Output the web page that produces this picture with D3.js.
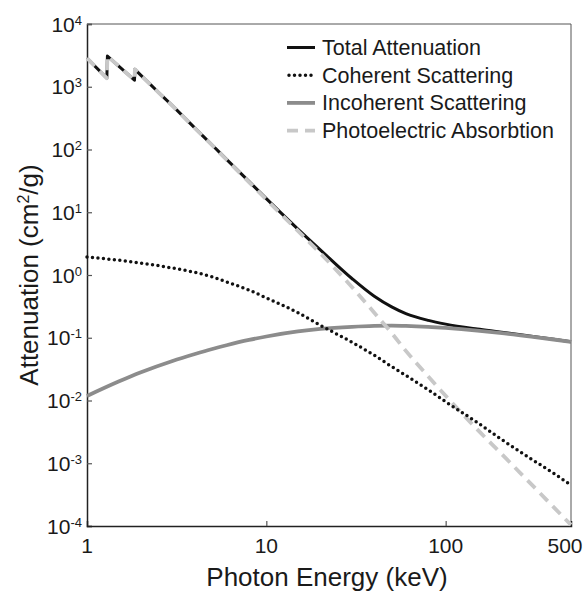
<!DOCTYPE html>
<html>
<head>
<meta charset="utf-8">
<script src="https://cdn.jsdelivr.net/npm/d3@7"></script>
<style>
  body { margin: 0; background: #fff; }
  text { font-family: "Liberation Sans", Arial, sans-serif; fill: #1a1a1a; }
</style>
</head>
<body>
<script>
// photon energies (keV) and mass attenuation (cm2/g)
// absorption curves carry the two edges near 1.3 and 1.84 keV
const energy     = [1, 1.29, 1.3, 1.84, 1.85, 2, 2.5, 3, 4, 5, 6, 8, 10, 15, 20, 30, 40, 50, 60, 80, 100, 150, 200, 300, 400, 500]
const total      = [2852, 1372, 3082, 1272, 1892, 1522, 816, 496, 219, 117, 69.5, 31.0, 16.5, 5.4, 2.52, 0.88, 0.458, 0.31, 0.242, 0.189, 0.165, 0.138, 0.124, 0.106, 0.0947, 0.0865]
const photo      = [2850, 1370, 3080, 1270, 1890, 1520, 815, 495, 218, 116, 68.7, 30.3, 16.0, 5.05, 2.22, 0.645, 0.25, 0.119, 0.0617, 0.0242, 0.0119, 0.00346, 0.00151, 0.000465, 0.0002, 0.000104]

// scattering curves are smooth, own energy grid
const energyScatter = [1, 1.5, 2, 3, 4, 5, 6, 8, 10, 15, 20, 30, 40, 50, 60, 80, 100, 150, 200, 300, 400, 500]
const coherent   = [1.94, 1.72, 1.55, 1.29, 1.10, 0.933, 0.776, 0.575, 0.432, 0.251, 0.158, 0.0851, 0.0525, 0.0347, 0.0251, 0.0148, 0.00955, 0.00447, 0.00251, 0.00117, 0.00069, 0.000447]
const incoherent = [0.0118, 0.0200, 0.0282, 0.0427, 0.0550, 0.0661, 0.0759, 0.0923, 0.1047, 0.1259, 0.1380, 0.1496, 0.1549, 0.1563, 0.1549, 0.1496, 0.1435, 0.1303, 0.1197, 0.1042, 0.0938, 0.0859]

const edges = [1.29, 1.84]   // last energy before each jump

const seriesNames = ["Total Attenuation", "Coherent Scattering", "Incoherent Scattering", "Photoelectric Absorbtion"]
const xTickValues = [1, 10, 100, 500]
const yExponents  = [-4, -3, -2, -1, 0, 1, 2, 3, 4]

const width = 587, height = 592
const margin = {top: 24, right: 16, bottom: 66, left: 87}
const w = width - margin.left - margin.right
const h = height - margin.top - margin.bottom

const svg = d3.select("body").append("svg")
  .attr("width", width)
  .attr("height", height)

const g = svg.append("g")
  .attr("transform", `translate(${margin.left},${margin.top})`)

const x = d3.scaleLog().domain([1, 500]).range([0, w])
const y = d3.scaleLog().domain([1e-4, 1e4]).range([h, 0])

// frame: top and right thin border
g.append("path")
  .attr("d", `M0,0H${w}V${h}`)
  .attr("fill", "none")
  .attr("stroke", "#555")
  .attr("stroke-width", 1)

// axes with ticks pointing inward
const yAxis = g.append("g")
  .call(d3.axisLeft(y).tickValues(yExponents.map(e => Math.pow(10, e))).tickSize(-5).tickFormat(""))
const xAxis = g.append("g")
  .attr("transform", `translate(0,${h})`)
  .call(d3.axisBottom(x).tickValues([10, 100]).tickSize(-5).tickFormat(""))

;[yAxis, xAxis].forEach(a => {
  a.select(".domain").attr("stroke", "#222").attr("stroke-width", 1.5)
  a.selectAll(".tick line").attr("stroke", "#555").attr("stroke-width", 1.2)
})

// y tick labels 10^n
yExponents.forEach(e => {
  const t = g.append("text")
    .attr("x", -5)
    .attr("y", y(Math.pow(10, e)))
    .attr("dy", "0.36em")
    .attr("text-anchor", "end")
    .style("font-size", "21px")
  t.append("tspan").text("10")
  t.append("tspan")
    .attr("dy", "-7")
    .style("font-size", "13px")
    .text(e)
})

// x tick labels (the last one sits a little left so it stays on the page)
g.selectAll(".xlab").data(xTickValues).enter().append("text")
  .attr("class", "xlab")
  .attr("x", d => d == 500 ? x(d) - 6 : x(d))
  .attr("y", h + 27)
  .attr("text-anchor", "middle")
  .style("font-size", "21px")
  .text(d => d)

// axis titles
svg.append("text")
  .attr("x", 327)
  .attr("y", 586)
  .attr("text-anchor", "middle")
  .style("font-size", "26px")
  .text("Photon Energy (keV)")

const yt = svg.append("text")
  .attr("transform", "translate(38,275) rotate(-90)")
  .attr("text-anchor", "middle")
  .style("font-size", "26px")
yt.append("tspan").text("Attenuation (cm")
yt.append("tspan").attr("dy", "-9").style("font-size", "16px").text("2")
yt.append("tspan").attr("dy", "9").text("/g)")

// curves
const smooth = d3.line().x(d => x(d[0])).y(d => y(d[1])).curve(d3.curveMonotoneX)

// smooth pieces between edges, joined by straight jumps
function edgePath(vals) {
  const pts = energy.map((e, i) => [e, vals[i]])
  const pieces = []
  let cur = []
  pts.forEach(p => {
    cur.push(p)
    if (edges.includes(p[0])) { pieces.push(cur); cur = [] }
  })
  pieces.push(cur)
  return pieces.map((pc, i) => {
    const s = smooth(pc)
    return i == 0 ? s : "L" + s.slice(1)
  }).join("")
}

const styles = [
  {stroke: "#111", width: 3, dash: null, cap: "butt"},
  {stroke: "#111", width: 3.5, dash: "0 5.5", cap: "round"},
  {stroke: "#8c8c8c", width: 3.8, dash: null, cap: "butt"},
  {stroke: "#c8c8c8", width: 3.8, dash: "11 7", cap: "butt"}
]

g.append("path")
  .attr("d", edgePath(total))
  .attr("fill", "none")
  .attr("stroke", styles[0].stroke)
  .attr("stroke-width", styles[0].width)
  .attr("stroke-linejoin", "round")

g.append("path").datum(energyScatter.map((e, i) => [e, incoherent[i]]))
  .attr("d", smooth)
  .attr("fill", "none")
  .attr("stroke", styles[2].stroke)
  .attr("stroke-width", styles[2].width)

g.append("path")
  .attr("d", edgePath(photo))
  .attr("fill", "none")
  .attr("stroke", styles[3].stroke)
  .attr("stroke-width", styles[3].width)
  .attr("stroke-linejoin", "round")
  .attr("stroke-dasharray", styles[3].dash)

g.append("path").datum(energyScatter.map((e, i) => [e, coherent[i]]))
  .attr("d", smooth)
  .attr("fill", "none")
  .attr("stroke", styles[1].stroke)
  .attr("stroke-width", styles[1].width)
  .attr("stroke-linecap", "round")
  .attr("stroke-dasharray", styles[1].dash)

// legend
const legend = svg.append("g")
  .attr("transform", "translate(287,47.5)")

const rows = legend.selectAll("g").data(seriesNames).enter().append("g")
  .attr("transform", (d, i) => `translate(0,${i * 27.7})`)

rows.append("line")
  .attr("x1", (d, i) => i == 1 ? 2 : 0)
  .attr("x2", 28)
  .attr("stroke", (d, i) => styles[i].stroke)
  .attr("stroke-width", (d, i) => styles[i].width)
  .attr("stroke-linecap", (d, i) => styles[i].cap)
  .attr("stroke-dasharray", (d, i) => styles[i].dash)

rows.append("text")
  .attr("x", 35)
  .attr("y", 7.5)
  .style("font-size", "21.5px")
  .text(d => d)
</script>
</body>
</html>
